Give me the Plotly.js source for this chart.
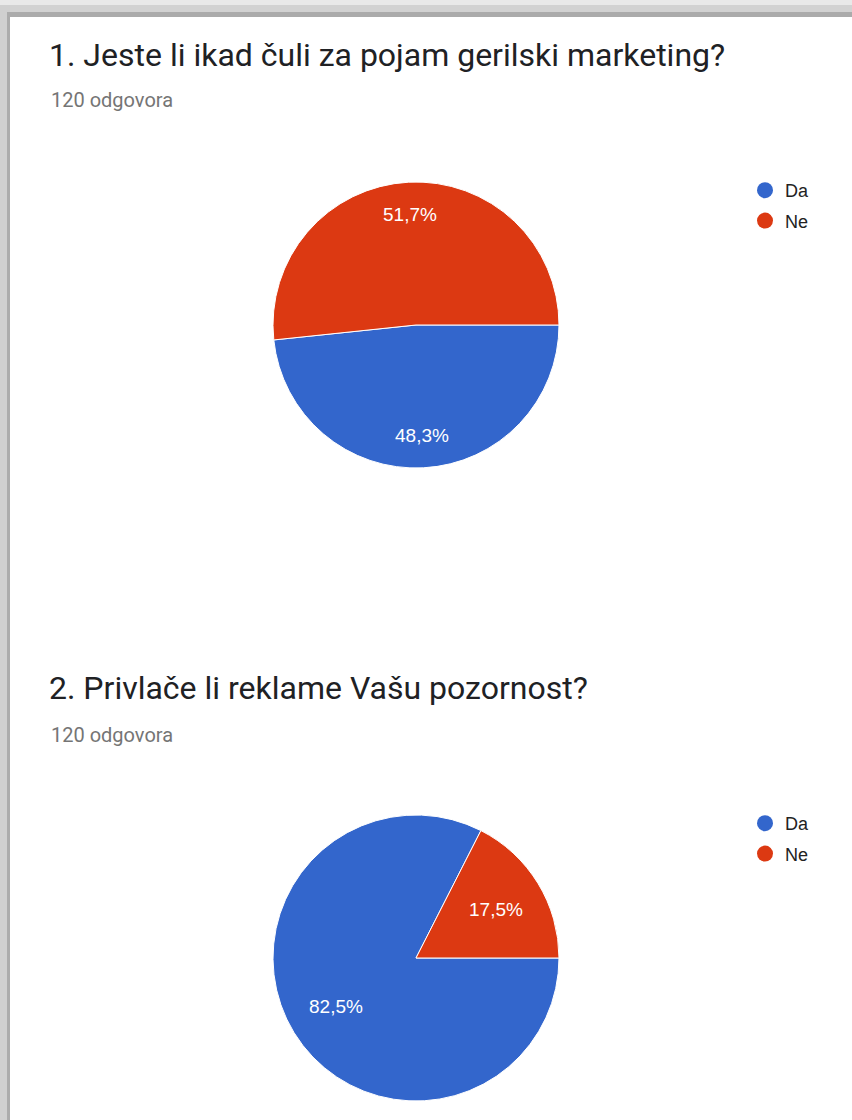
<!DOCTYPE html>
<html>
<head>
<meta charset="utf-8">
<script src="https://cdn.plot.ly/plotly-3.0.1.min.js"></script>
<style>
  html, body { margin: 0; padding: 0; background: #ffffff; }
  #chart { width: 852px; height: 1120px; }
</style>
</head>
<body>
<div id="chart"></div>
<script>
// ---- data ----
const categories = ['Da', 'Ne'];
const colors = ['#3366cc', '#dc3912'];
const q1Title = '1. Jeste li ikad čuli za pojam gerilski marketing?';
const q1Responses = '120 odgovora';
const q1Values = [58, 62];   // 48,3% / 51,7%
const q2Title = '2. Privlače li reklame Vašu pozornost?';
const q2Responses = '120 odgovora';
const q2Values = [99, 21];   // 82,5% / 17,5%

const H = 1120, W = 852;
const py = v => 1 - v / H;
const px = v => v / W;

// pie geometry (pixels)
const pieCX = 416, pieR = 143;
const pies = [
  { values: q1Values, cy: 325, labelR: 0.776 },
  { values: q2Values, cy: 958, labelR: 0.655 }
];

const labelFont = { color: '#ffffff', size: 19, family: 'Liberation Sans, Arial, sans-serif' };

const traces = pies.map(function (p) {
  return {
    type: 'pie',
    labels: categories,
    values: p.values,
    sort: false,
    direction: 'clockwise',
    rotation: 90,
    marker: { colors: colors, line: { color: '#ffffff', width: 1 } },
    textinfo: 'none',
    hoverinfo: 'label+percent',
    showlegend: false,
    domain: { x: [px(pieCX - pieR), px(pieCX + pieR)], y: [py(p.cy + pieR), py(p.cy - pieR)] }
  };
});

// percent labels placed at each slice's mid-angle (derived from the values)
const labelAnnotations = [];
pies.forEach(function (p) {
  const total = p.values.reduce((a, b) => a + b, 0);
  let acc = 0;
  p.values.forEach(function (v) {
    const mid = (acc + v / 2) / total * 2 * Math.PI; // clockwise from 3 o'clock
    acc += v;
    const dx = Math.cos(mid) * pieR * p.labelR;
    const dy = Math.sin(mid) * pieR * p.labelR; // downward in pixels
    const pct = (v / total * 100).toFixed(1).replace('.', ',') + '%';
    labelAnnotations.push({
      text: pct, xref: 'paper', yref: 'paper',
      x: px(pieCX + dx), y: py(p.cy + dy),
      xanchor: 'center', yanchor: 'middle', showarrow: false, font: labelFont
    });
  });
});

// legend entries (circle markers) for each chart
['legend', 'legend2'].forEach(function (lg) {
  categories.forEach(function (c, i) {
    traces.push({
      type: 'scatter', mode: 'markers', x: [null], y: [null],
      name: c, legend: lg, legendgroup: lg + c,
      marker: { color: colors[i], size: 16, symbol: 'circle' },
      hoverinfo: 'skip', showlegend: true
    });
  });
});

const legendStyle = function (yTop) {
  return {
    x: px(745), xanchor: 'left', y: py(yTop), yanchor: 'top',
    bgcolor: 'rgba(0,0,0,0)', borderwidth: 0,
    font: { family: 'Liberation Sans, Arial, sans-serif', size: 18, color: '#222222' },
    traceorder: 'grouped', tracegroupgap: 4, itemwidth: 30, itemclick: false, itemdoubleclick: false
  };
};

const layout = {
  width: W, height: H,
  margin: { l: 0, r: 0, t: 0, b: 0 },
  paper_bgcolor: '#ffffff',
  plot_bgcolor: 'rgba(0,0,0,0)',
  separators: ',.',
  xaxis: { visible: false, domain: [0, 0.01] },
  yaxis: { visible: false, domain: [0, 0.01] },
  legend: legendStyle(172),
  legend2: legendStyle(805),
  shapes: [
    // page frame (top and left shadow strips)
    { type: 'rect', xref: 'paper', yref: 'paper', x0: 0, x1: 1, y0: py(17), y1: 1, fillcolor: '#d2d2d2', line: { width: 0 }, layer: 'below' },
    { type: 'rect', xref: 'paper', yref: 'paper', x0: 0, x1: 1, y0: py(5), y1: 1, fillcolor: '#e9e9e9', line: { width: 0 }, layer: 'below' },
    { type: 'rect', xref: 'paper', yref: 'paper', x0: px(8), x1: 1, y0: py(17), y1: py(12), fillcolor: '#ababab', line: { width: 0 }, layer: 'below' },
    { type: 'rect', xref: 'paper', yref: 'paper', x0: 0, x1: px(10), y0: 0, y1: py(5), fillcolor: '#d0d0d0', line: { width: 0 }, layer: 'below' },
    { type: 'rect', xref: 'paper', yref: 'paper', x0: px(7), x1: px(10), y0: 0, y1: py(12), fillcolor: '#acacac', line: { width: 0 }, layer: 'below' }
  ],
  annotations: [
    { text: q1Title, xref: 'paper', yref: 'paper', x: px(47), y: py(55), xanchor: 'left', yanchor: 'middle', showarrow: false,
      font: { family: 'Roboto, sans-serif', size: 32, color: '#202124' } },
    { text: q1Responses, xref: 'paper', yref: 'paper', x: px(49), y: py(100), xanchor: 'left', yanchor: 'middle', showarrow: false,
      font: { family: 'Roboto, sans-serif', size: 20, color: '#757575' } },
    { text: q2Title, xref: 'paper', yref: 'paper', x: px(47), y: py(688), xanchor: 'left', yanchor: 'middle', showarrow: false,
      font: { family: 'Roboto, sans-serif', size: 32, color: '#202124' } },
    { text: q2Responses, xref: 'paper', yref: 'paper', x: px(49), y: py(735), xanchor: 'left', yanchor: 'middle', showarrow: false,
      font: { family: 'Roboto, sans-serif', size: 20, color: '#757575' } }
  ].concat(labelAnnotations)
};

Plotly.newPlot('chart', traces, layout, { displayModeBar: false, staticPlot: true });
</script>
</body>
</html>
